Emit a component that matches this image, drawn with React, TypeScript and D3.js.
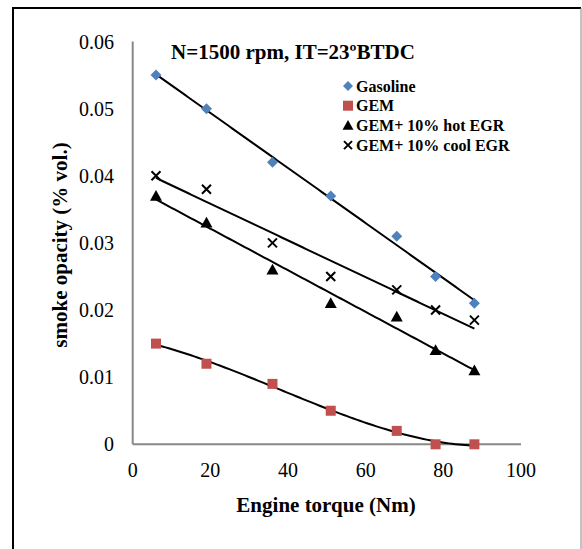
import React from "react";
import * as d3 from "d3";

const torque = [6, 19, 36, 51, 68, 78, 88];
const gasoline = [0.055, 0.05, 0.042, 0.037, 0.031, 0.025, 0.021];
const gem = [0.015, 0.012, 0.009, 0.005, 0.002, 0.0, 0.0];
const hotEgr = [0.037, 0.033, 0.026, 0.021, 0.019, 0.014, 0.011];
const coolEgr = [0.04, 0.038, 0.03, 0.025, 0.023, 0.02, 0.0185];
const xTicks = [0, 20, 40, 60, 80, 100];
const yTicks = [0, 0.01, 0.02, 0.03, 0.04, 0.05, 0.06];
const legendLabels = ["Gasoline", "GEM", "GEM+ 10% hot EGR", "GEM+ 10% cool EGR"];
const title = "N=1500 rpm, IT=23ºBTDC";
const xTitle = "Engine torque (Nm)";
const yTitle = "smoke opacity (% vol.)";

function polyFit(xs: number[], ys: number[], order: number): number[] {
  const n = order + 1;
  const A: number[][] = Array.from({ length: n }, () => Array(n + 1).fill(0));
  for (let i = 0; i < xs.length; i++) {
    for (let r = 0; r < n; r++) {
      for (let c = 0; c < n; c++) A[r][c] += Math.pow(xs[i], r + c);
      A[r][n] += ys[i] * Math.pow(xs[i], r);
    }
  }
  for (let col = 0; col < n; col++) {
    let piv = col;
    for (let r = col + 1; r < n; r++) if (Math.abs(A[r][col]) > Math.abs(A[piv][col])) piv = r;
    [A[col], A[piv]] = [A[piv], A[col]];
    for (let r = 0; r < n; r++) {
      if (r === col) continue;
      const f = A[r][col] / A[col][col];
      for (let c = col; c <= n; c++) A[r][c] -= f * A[col][c];
    }
  }
  return A.map((row, i) => row[n] / row[i]);
}
const evalPoly = (coef: number[], x: number) => coef.reduce((s, c, i) => s + c * Math.pow(x, i), 0);

export default function App() {
  const W = 582, H = 549;
  const x = d3.scaleLinear().domain([0, 100]).range([132.7, 521]);
  const y = d3.scaleLinear().domain([0, 0.06]).range([444.3, 41.5]);
  const font = "'Liberation Serif', 'Times New Roman', serif";
  const xMin = d3.min(torque)!, xMax = d3.max(torque)!;
  const samples = d3.range(0, 101).map((i) => xMin + ((xMax - xMin) * i) / 100);
  const line = d3.line<[number, number]>().x((d) => x(d[0])).y((d) => y(d[1]));
  const trend = (vals: number[], order: number) => {
    const c = polyFit(torque, vals, order);
    return line(samples.map((s) => [s, evalPoly(c, s)] as [number, number])) || "";
  };
  const blue = "#4F81BD", red = "#C0504D";
  const diamond = (cx: number, cy: number, r = 5.5) => `M${cx},${cy - r}L${cx + r},${cy}L${cx},${cy + r}L${cx - r},${cy}Z`;
  const tri = (cx: number, cy: number, s = 6) => `M${cx},${cy - s}L${cx + s},${cy + s * 0.8}L${cx - s},${cy + s * 0.8}Z`;
  const cross = (cx: number, cy: number, s = 4.5) => `M${cx - s},${cy - s}L${cx + s},${cy + s}M${cx - s},${cy + s}L${cx + s},${cy - s}`;
  const legX = 348, legY0 = 86, legDy = 19.7;
  return (
    <svg width={W} height={H} style={{ position: "absolute", left: 0, top: 0, background: "#fff" }} fontFamily={font}>
      <rect x={0} y={0} width={W} height={H} fill="#fff" />
      <line x1={13} y1={8} x2={13} y2={H} stroke="#000" strokeWidth={2} />
      <line x1={12} y1={8} x2={581} y2={8} stroke="#000" strokeWidth={2} />
      <line x1={581} y1={8} x2={581} y2={H} stroke="#888" strokeWidth={1} />
      {/* axes */}
      <line x1={x(0)} y1={y(0.06)} x2={x(0)} y2={y(0)} stroke="#888" strokeWidth={2} />
      <line x1={x(0)} y1={y(0)} x2={x(100)} y2={y(0)} stroke="#888" strokeWidth={2} />
      {yTicks.map((t) => (
        <text key={t} x={114} y={y(t)} textAnchor="end" dominantBaseline="central" fontSize={20}>
          {t === 0 ? "0" : t.toFixed(2)}
        </text>
      ))}
      {xTicks.map((t) => (
        <text key={t} x={x(t)} y={470} textAnchor="middle" dominantBaseline="central" fontSize={20}>
          {t}
        </text>
      ))}
      <text x={326} y={505} textAnchor="middle" dominantBaseline="central" fontSize={21} fontWeight="bold">{xTitle}</text>
      <text transform="translate(60,245) rotate(-90)" textAnchor="middle" dominantBaseline="central" fontSize={21} fontWeight="bold">{yTitle}</text>
      <text x={293} y={52} textAnchor="middle" dominantBaseline="central" fontSize={21} fontWeight="bold">{title}</text>
      {/* trendlines */}
      <path d={trend(gasoline, 1)} fill="none" stroke="#000" strokeWidth={2} />
      <path d={trend(coolEgr, 1)} fill="none" stroke="#000" strokeWidth={2} />
      <path d={trend(hotEgr, 1)} fill="none" stroke="#000" strokeWidth={2} />
      <path d={trend(gem, 3)} fill="none" stroke="#000" strokeWidth={2} />
      {/* markers */}
      {torque.map((t, i) => (
        <g key={t}>
          <path d={diamond(x(t), y(gasoline[i]))} fill={blue} />
          <rect x={x(t) - 5} y={y(gem[i]) - 5} width={10} height={10} fill={red} />
          <path d={tri(x(t), y(hotEgr[i]))} fill="#000" />
          <path d={cross(x(t), y(coolEgr[i]))} stroke="#000" strokeWidth={2} fill="none" />
        </g>
      ))}
      {/* legend */}
      <path d={diamond(legX, legY0, 5)} fill={blue} />
      <rect x={legX - 5} y={legY0 + legDy - 5} width={10} height={10} fill={red} />
      <path d={tri(legX, legY0 + 2 * legDy, 5.5)} fill="#000" />
      <path d={cross(legX, legY0 + 3 * legDy, 4)} stroke="#000" strokeWidth={2} fill="none" />
      {legendLabels.map((l, i) => (
        <text key={l} x={356} y={legY0 + i * legDy} dominantBaseline="central" fontSize={16} fontWeight="bold">{l}</text>
      ))}
    </svg>
  );
}
